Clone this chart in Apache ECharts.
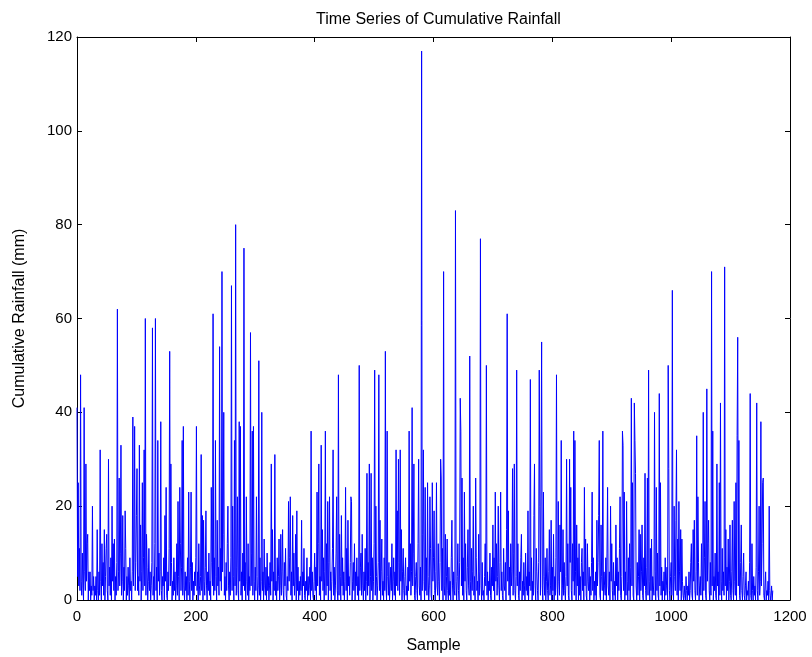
<!DOCTYPE html>
<html>
<head>
<meta charset="utf-8">
<script src="https://cdn.jsdelivr.net/npm/echarts@6/dist/echarts.min.js"></script>
<style>
  html, body { margin: 0; padding: 0; background: #fff; }
  #main { width: 812px; height: 657px; }
</style>
</head>
<body>
<div id="main"></div>
<script>
// rainfall per sample in blocks of 100 samples
var rain0 = [41,5,25,3,11,2,48,4,1,10,3,0,41,6,2,29,4,12,14,0,6,2,6,0,3,1,20,2,5,0,3,1,5,0,15,2,0,6,1,32,4,0,12,3,8,1,15,0,5,11,
  14,2,0,30,3,7,1,9,0,20,4,12,2,13,0,5,1,8,62,2,6,26,3,10,33,1,4,18,0,7,2,19,11,0,5,1,7,3,0,9,2,4,0,6,39,3,10,37,2,8];
var rain1 = [18,28,2,5,1,33,4,16,0,6,25,2,9,32,3,60,1,14,7,0,4,11,2,6,0,3,8,58,1,5,0,12,60,2,7,0,34,4,10,1,6,38,2,0,5,3,9,0,18,4,
  24,1,0,6,2,11,53,3,29,8,0,4,1,9,2,6,0,3,12,1,21,5,0,24,12,2,7,34,1,37,3,0,6,2,5,0,9,1,23,4,0,7,23,2,8,0,4,1,6,3];
var rain2 = [9,37,2,6,0,12,3,1,5,31,2,18,0,17,4,1,7,19,3,0,6,2,10,1,4,0,24,8,3,61,1,9,2,34,5,0,17,3,7,1,54,4,11,2,70,6,14,40,1,5,
  0,8,2,12,20,3,0,6,1,9,67,2,20,5,0,34,3,80,1,7,22,2,0,38,4,37,1,6,0,10,3,75,2,8,0,22,4,1,12,0,5,2,57,3,10,36,1,37,4,0];
var rain3 = [7,2,22,5,0,3,51,1,9,0,4,40,2,6,0,13,3,1,7,0,10,2,5,0,3,8,1,29,4,15,0,6,2,31,1,4,0,9,2,5,13,0,3,14,1,6,15,2,0,8,
  3,11,1,0,5,2,21,4,9,22,1,6,0,18,3,10,1,4,14,0,19,2,7,0,4,1,5,2,17,0,6,3,11,1,0,4,2,9,0,5,1,3,7,0,36,2,6,1,0,4];
var rain4 = [10,2,7,0,23,3,12,29,1,5,0,33,4,15,2,9,0,6,36,1,12,3,21,0,8,22,2,6,0,4,11,32,1,7,0,3,10,22,2,0,48,1,14,5,0,18,3,9,1,6,
  0,4,24,2,11,0,17,3,5,1,8,22,21,0,4,8,2,12,0,6,3,9,1,5,0,50,2,7,10,1,14,3,0,6,2,11,0,4,27,1,8,3,29,0,5,27,2,9,0,4];
var rain5 = [12,49,1,20,5,0,3,8,48,2,17,0,6,13,1,4,0,9,2,53,3,0,36,5,1,8,0,3,7,2,12,0,4,9,1,6,0,32,3,19,2,30,8,1,32,4,15,0,6,11,
  2,0,5,9,1,3,0,7,2,36,4,12,1,6,41,3,10,29,1,0,5,8,2,0,12,30,3,1,7,0,117,2,14,32,4,0,24,2,9,1,25,5,0,3,22,11,1,0,25,4];
var rain6 = [9,19,2,0,6,25,3,1,12,4,0,8,30,26,2,11,0,70,3,1,14,0,5,13,2,0,7,1,4,0,9,17,3,0,6,2,1,83,4,0,5,12,2,0,8,43,36,3,26,1,
  9,0,23,4,12,2,0,7,15,3,1,52,4,0,11,2,6,20,1,5,0,26,9,2,4,0,14,1,6,77,3,0,8,1,2,0,5,12,3,50,1,6,0,4,2,10,1,0,7,3];
var rain7 = [16,2,9,0,23,4,12,1,5,20,3,0,8,23,2,6,1,0,11,3,2,8,0,15,61,4,19,1,7,0,12,3,6,28,1,10,29,2,0,5,49,3,12,1,0,6,2,9,14,0,
  4,1,8,3,0,10,2,5,1,19,0,6,3,47,2,9,0,4,1,18,29,3,0,11,6,2,0,8,49,20,1,26,55,3,0,23,5,1,9,0,4,11,2,0,6,15,1,3,17,0];
var rain8 = [7,2,14,0,5,1,9,48,3,0,21,4,1,16,6,34,0,3,15,1,8,2,0,5,30,3,12,1,0,30,8,24,2,0,12,4,36,1,34,6,0,16,3,9,0,12,1,5,0,8,
  11,2,6,0,24,3,13,1,0,12,4,2,7,0,5,1,8,23,2,9,0,4,1,6,0,17,3,8,18,34,1,0,16,5,2,36,0,6,3,1,9,0,10,24,3,1,6,0,20,4];
var rain9 = [12,2,0,8,1,4,0,16,3,9,0,6,2,11,22,1,0,5,36,33,2,23,0,6,1,21,4,0,9,2,12,0,7,43,3,25,1,0,42,34,27,3,0,8,1,5,15,0,14,2,
  6,16,1,0,9,3,27,2,0,7,26,1,49,4,0,11,2,13,0,5,3,1,40,6,0,24,2,10,1,0,44,3,25,1,7,0,4,2,6,0,9,1,3,7,0,50,28,2,0,5];
var rain10 = [8,1,66,3,0,20,5,2,17,32,1,13,0,21,6,2,15,0,13,4,1,0,3,1,0,5,2,0,3,1,6,0,2,8,12,1,0,15,4,17,2,0,6,35,1,22,8,0,3,5,
  1,12,4,0,40,2,9,21,1,0,45,4,12,17,2,0,8,1,70,3,36,0,5,2,10,1,0,29,3,6,0,25,1,42,4,0,11,2,6,1,71,3,15,0,7,2,13,0,4,16];
var rain11 = [1,0,6,17,2,0,21,4,1,25,0,35,56,3,34,1,0,8,16,2,0,5,10,1,0,3,6,0,2,1,4,0,8,44,1,0,12,2,0,5,1,3,0,7,42,2,0,6,20,1,
  4,38,3,12,25,26,1,0,3,6,0,2,1,4,0,20,2,0,1,3,0,2];

var xTicks = [0, 200, 400, 600, 800, 1000, 1200];
var yTicks = [0, 20, 40, 60, 80, 100, 120];

var rain = [].concat(rain0, rain1, rain2, rain3, rain4, rain5, rain6, rain7, rain8, rain9, rain10, rain11);
var pts = [];
for (var i = 0; i < rain.length; i++) {
    pts.push([i, rain[i]]);
}

var font = '"Liberation Sans", Arial, sans-serif';
var black = '#000';

// axis on the box sides, ticks pointing in like matlab
function boxAxis(pos, showLbl, ticks, margin) {
    return {
        type: 'value',
        position: pos,
        min: ticks[0],
        max: ticks[ticks.length - 1],
        interval: ticks[1] - ticks[0],
        axisLine: { show: true, onZero: false, lineStyle: { color: black, width: 1 } },
        axisTick: { show: true, inside: true, length: 5, lineStyle: { color: black } },
        axisLabel: {
            show: showLbl, color: black, fontSize: 15, fontFamily: font, margin: margin || 6,
            formatter: function (v) { return String(v); }
        },
        splitLine: { show: false }
    };
}

var xBottom = boxAxis('bottom', true, xTicks, 9);
xBottom.name = 'Sample';
xBottom.nameLocation = 'middle';
xBottom.nameGap = 38;
xBottom.nameTextStyle = { color: black, fontSize: 16, fontFamily: font };

var yLeft = boxAxis('left', true, yTicks, 5);
yLeft.name = 'Cumulative Rainfall (mm)';
yLeft.nameLocation = 'middle';
yLeft.nameGap = 49;
yLeft.nameTextStyle = { color: black, fontSize: 16, fontFamily: font };

var myChart = echarts.init(document.getElementById('main'));
var option = {
    backgroundColor: '#fff',
    animation: false,
    title: {
        text: 'Time Series of Cumulative Rainfall',
        left: 311,
        top: 7,
        textStyle: { color: black, fontSize: 16, fontWeight: 'normal', fontFamily: font }
    },
    grid: { left: 77, right: 22, top: 37, bottom: 57, containLabel: false, outerBoundsMode: 'none' },
    xAxis: [xBottom, boxAxis('top', false, xTicks)],
    yAxis: [yLeft, boxAxis('right', false, yTicks)],
    series: [{
        type: 'line',
        data: pts,
        showSymbol: false,
        sampling: null,
        lineStyle: { color: '#0000ff', width: 1 },
        itemStyle: { color: '#0000ff' }
    }]
};
myChart.setOption(option);
</script>
</body>
</html>
